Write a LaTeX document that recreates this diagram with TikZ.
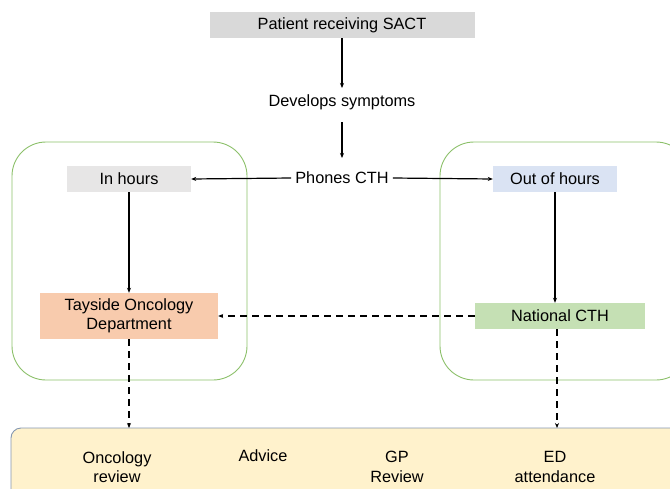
\documentclass[tikz,border=0pt]{standalone}
\usepackage{fontspec}
\setmainfont{Liberation Sans}
\usetikzlibrary{arrows.meta}
\definecolor{boxgray}{HTML}{D9D9D9}
\definecolor{inhours}{HTML}{E7E6E6}
\definecolor{outhours}{HTML}{DAE3F3}
\definecolor{tayside}{HTML}{F8CBAD}
\definecolor{national}{HTML}{C5E0B4}
\definecolor{frame}{HTML}{8CC06A}
\definecolor{bottomfill}{HTML}{FFF2CC}
\definecolor{bottomline}{HTML}{8497B0}
\tikzset{
  txt/.style={font=\fontsize{16.3}{19.5}\selectfont, align=center, inner sep=0pt},
  fbox/.style={txt, minimum height=26pt},
  arr/.style={-{Stealth[length=5pt,width=4pt]}, line width=1.2pt},
  darr/.style={arr, dash pattern=on 7pt off 5pt},
  group/.style={draw=frame, line width=0.9pt, rounded corners=34pt},
}
\begin{document}
\begin{tikzpicture}[x=1pt,y=-1pt]
\useasboundingbox (0,0) rectangle (670,488);
\clip (0,0) rectangle (670,488);
% groups
\draw[group] (12,142) rectangle (247,380);
\draw[group] (440,142) rectangle (690,380);
% bottom box
\draw[fill=bottomfill, draw=bottomline, line width=0.9pt, rounded corners=10pt] (11,428) rectangle (690,520);
% nodes
\node[fbox, fill=boxgray, minimum width=265pt] (patient) at (342,25) {Patient receiving SACT};
\node[txt] (symptoms) at (342,102) {Develops symptoms};
\node[txt, inner xsep=4pt] (phones) at (342,178) {Phones CTH};
\node[fbox, fill=inhours, minimum width=124pt] (inh) at (129,179) {In hours};
\node[fbox, fill=outhours, minimum width=124pt] (outh) at (555,179) {Out of hours};
\node[txt, fill=tayside, minimum width=178pt, minimum height=46pt] (tay) at (129,316) {Tayside Oncology\\Department};
\node[fbox, fill=national, minimum width=170pt] (nat) at (560,316) {National CTH};
\node[txt] (onc) at (117,467) {Oncology\\review};
\node[txt, anchor=north] (adv) at (263,449) {Advice};
\node[txt] (gp) at (397,467) {GP\\Review};
\node[txt] (ed) at (555,467) {ED\\attendance};
\coordinate (btop1) at (129,428);
\coordinate (btop2) at (557,428);
\coordinate (symtop) at (342,88);
% arrows
\draw[arr] (patient.south) -- (symtop);
\draw[arr] (symptoms.south |- 0,122) -- (phones.north |- 0,158);
\draw[arr] (phones.west) -- (inh.east);
\draw[arr] (phones.east) -- (outh.west);
\draw[arr] (inh.south) -- (tay.north);
\draw[arr] (outh.south) -- (nat.north -| outh.south);
\draw[darr] (nat.west) -- (tay.east);
\draw[darr] (tay.south) -- (btop1);
\draw[darr] (nat.south -| btop2) -- (btop2);
\end{tikzpicture}
\end{document}
